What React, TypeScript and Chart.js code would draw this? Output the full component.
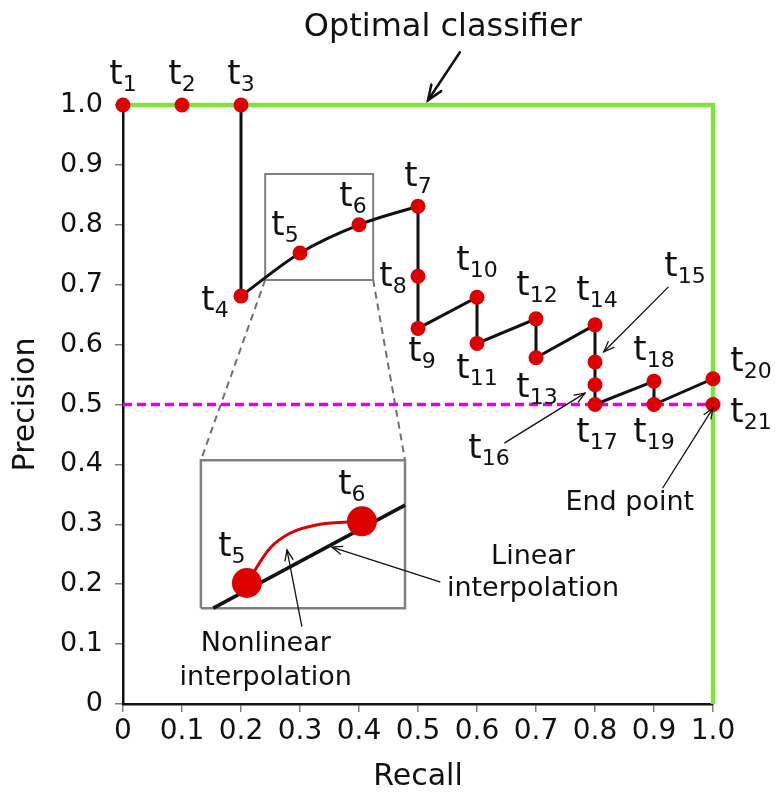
import React, { useEffect, useRef } from 'react';
import { Chart, registerables } from 'chart.js';

Chart.register(...registerables);

// ---- data ----
const thresholdIds = ['1','2','3','4','5','6','7','8','9','10','11','12','13','14','15','16','17','18','19','20','21'];
const recall = [0, 0.1, 0.2, 0.2, 0.3, 0.4, 0.5, 0.5, 0.5, 0.6, 0.6, 0.7, 0.7, 0.8, 0.8, 0.8, 0.8, 0.9, 0.9, 1.0, 1.0];
const precision = [1.0, 1.0, 1.0, 0.681, 0.753, 0.8, 0.831, 0.714, 0.627, 0.679, 0.602, 0.643, 0.578, 0.633, 0.571, 0.533, 0.5, 0.539, 0.5, 0.543, 0.5];
const curveFrom = 3; // t4
const curveTo = 6;   // t7
const xTickLabels = ['0', '0.1', '0.2', '0.3', '0.4', '0.5', '0.6', '0.7', '0.8', '0.9', '1.0'];
const yTickLabels = ['0', '0.1', '0.2', '0.3', '0.4', '0.5', '0.6', '0.7', '0.8', '0.9', '1.0'];
const optimalRecall = [0, 1, 1];
const optimalPrecision = [1, 1, 0];
const baselineRecall = [0, 1];
const baselinePrecision = [0.5, 0.5];
// zoom illustration
const zoomBoxRecall = [0.241, 0.424];
const zoomBoxPrecision = [0.708, 0.885];
const insetBoxRecall = [0.132, 0.478];
const insetBoxPrecision = [0.16, 0.407];
const insetLineRecall = [0.153, 0.478];
const insetLinePrecision = [0.16, 0.332];
const insetDotRecall = [0.21, 0.405];
const insetDotPrecision = [0.202, 0.305];
const insetDotIds = ['5', '6'];
const insetCurveRecall = [0.21, 0.249, 0.283, 0.334, 0.405];
const insetCurvePrecision = [0.202, 0.26, 0.285, 0.3, 0.305];

// ---- annotation layout (pixel offsets of the t-labels from their points) ----
const labelOffsets: [number, number][] = [
  [0, -29], [0, -29], [0, -29], [-26, 6], [-15, -26], [-6, -27], [0, -28], [-25, 2], [4, 25],
  [0, -35], [0, 27], [1, -32], [1, 31], [2, -33], [90, -94], [-106, 65], [2, 29], [0, -29],
  [0, 29], [38, -16], [38, 9],
];
const insetLabelOffsets: [number, number][] = [[-15, -35], [-10, -35]];

type Arrow = { from: [number, number]; to: [number, number]; width: number; head: number };
const arrows: Arrow[] = [
  { from: [0.571, 1.088], to: [0.517, 1.008], width: 2.5, head: 16 },
  { from: [0.924, 0.696], to: [0.815, 0.588], width: 1.3, head: 11 },
  { from: [0.647, 0.436], to: [0.783, 0.519], width: 1.3, head: 11 },
  { from: [0.915, 0.361], to: [1.0, 0.494], width: 1.3, head: 11 },
  { from: [0.537, 0.204], to: [0.354, 0.262], width: 1.3, head: 11 },
  { from: [0.303, 0.130], to: [0.278, 0.257], width: 1.3, head: 11 },
];
type Note = { text: string; at: [number, number]; size: number };
const notes: Note[] = [
  { text: 'Optimal classifier', at: [0.542, 1.129], size: 32 },
  { text: 'End point', at: [0.859, 0.336], size: 27 },
  { text: 'Linear', at: [0.695, 0.245], size: 27 },
  { text: 'interpolation', at: [0.695, 0.192], size: 27 },
  { text: 'Nonlinear', at: [0.242, 0.100], size: 27 },
  { text: 'interpolation', at: [0.242, 0.043], size: 27 },
];

const FONT = "'DejaVu Sans', Verdana, sans-serif";
const RED = '#dc0000';
const GREEN = '#80e33c';
const MAGENTA = '#e200ee';

const pts = (xs: number[], ys: number[]) => xs.map((x, i) => ({ x, y: ys[i] }));

function drawT(ctx: CanvasRenderingContext2D, cx: number, cy: number, sub: string, big = 34, small = 22) {
  ctx.font = `${big}px ${FONT}`;
  const wt = ctx.measureText('t').width;
  ctx.font = `${small}px ${FONT}`;
  const ws = ctx.measureText(sub).width;
  const left = cx - (wt + ws) / 2;
  const base = cy + 8;
  ctx.textAlign = 'left';
  ctx.textBaseline = 'alphabetic';
  ctx.fillStyle = '#111';
  ctx.font = `${big}px ${FONT}`;
  ctx.fillText('t', left, base);
  ctx.font = `${small}px ${FONT}`;
  ctx.fillText(sub, left + wt, base + 7);
}

function drawArrow(ctx: CanvasRenderingContext2D, x1: number, y1: number, x2: number, y2: number, w: number, head: number) {
  ctx.save();
  ctx.strokeStyle = '#111';
  ctx.lineWidth = w;
  ctx.lineCap = 'round';
  ctx.beginPath();
  ctx.moveTo(x1, y1);
  ctx.lineTo(x2, y2);
  ctx.stroke();
  const a = Math.atan2(y2 - y1, x2 - x1);
  ctx.beginPath();
  ctx.moveTo(x2 - head * Math.cos(a - 0.38), y2 - head * Math.sin(a - 0.38));
  ctx.lineTo(x2, y2);
  ctx.lineTo(x2 - head * Math.cos(a + 0.38), y2 - head * Math.sin(a + 0.38));
  ctx.stroke();
  ctx.restore();
}

const annotationPlugin = {
  id: 'annotations',
  afterDatasetsDraw(chart: any) {
    const ctx: CanvasRenderingContext2D = chart.ctx;
    const xs = chart.scales.x;
    const ys = chart.scales.y;
    const px = (v: number) => xs.getPixelForValue(v);
    const py = (v: number) => ys.getPixelForValue(v);
    ctx.save();
    arrows.forEach((a) => drawArrow(ctx, px(a.from[0]), py(a.from[1]), px(a.to[0]), py(a.to[1]), a.width, a.head));
    notes.forEach((n) => {
      ctx.font = `${n.size}px ${FONT}`;
      ctx.fillStyle = '#111';
      ctx.textAlign = 'center';
      ctx.textBaseline = 'middle';
      ctx.fillText(n.text, px(n.at[0]), py(n.at[1]));
    });
    thresholdIds.forEach((id, i) => {
      const [dx, dy] = labelOffsets[i];
      drawT(ctx, px(recall[i]) + dx, py(precision[i]) + dy, id);
    });
    insetDotIds.forEach((id, i) => {
      const [dx, dy] = insetLabelOffsets[i];
      drawT(ctx, px(insetDotRecall[i]) + dx, py(insetDotPrecision[i]) + dy, id);
    });
    ctx.restore();
  },
};

export default function App() {
  const ref = useRef<HTMLCanvasElement | null>(null);
  useEffect(() => {
    if (!ref.current) return;
    const all = pts(recall, precision);
    const rect = (rx: number[], ry: number[]) => [
      { x: rx[0], y: ry[0] }, { x: rx[1], y: ry[0] }, { x: rx[1], y: ry[1] }, { x: rx[0], y: ry[1] }, { x: rx[0], y: ry[0] },
    ];
    const line = (extra: any) => ({ showLine: true, pointRadius: 0, clip: false, fill: false, ...extra });
    const chart = new Chart(ref.current, {
      type: 'scatter',
      data: {
        datasets: [
          { data: all, pointRadius: 7.5, pointBackgroundColor: RED, pointBorderWidth: 0, showLine: false, clip: false, order: 0 },
          line({ data: pts(insetDotRecall, insetDotPrecision), pointRadius: 15, pointBackgroundColor: RED, pointBorderWidth: 0, showLine: false, order: 1 }),
          line({ data: pts(optimalRecall, optimalPrecision), borderColor: GREEN, borderWidth: 4.5, order: 2 }),
          line({ data: all.slice(0, curveFrom + 1), borderColor: '#111', borderWidth: 3, order: 3 }),
          line({ data: all.slice(curveFrom, curveTo + 1), borderColor: '#111', borderWidth: 3, cubicInterpolationMode: 'monotone', order: 3 }),
          line({ data: all.slice(curveTo), borderColor: '#111', borderWidth: 3, order: 3 }),
          line({ data: pts(insetCurveRecall, insetCurvePrecision), borderColor: RED, borderWidth: 3, cubicInterpolationMode: 'monotone', order: 4 }),
          line({ data: pts(insetLineRecall, insetLinePrecision), borderColor: '#111', borderWidth: 3.5, order: 5 }),
          line({ data: pts(baselineRecall, baselinePrecision), borderColor: MAGENTA, borderWidth: 3.5, borderDash: [9, 5], order: 6 }),
          line({ data: rect(zoomBoxRecall, zoomBoxPrecision), borderColor: '#808080', borderWidth: 2, order: 7 }),
          line({ data: rect(insetBoxRecall, insetBoxPrecision), borderColor: '#808080', borderWidth: 2.5, order: 7 }),
          line({ data: [{ x: zoomBoxRecall[0], y: zoomBoxPrecision[0] }, { x: insetBoxRecall[0], y: insetBoxPrecision[1] }], borderColor: '#707070', borderWidth: 2, borderDash: [7, 5], order: 8 }),
          line({ data: [{ x: zoomBoxRecall[1], y: zoomBoxPrecision[0] }, { x: insetBoxRecall[1], y: insetBoxPrecision[1] }], borderColor: '#707070', borderWidth: 2, borderDash: [7, 5], order: 8 }),
        ] as any,
      },
      options: {
        animation: false,
        responsive: false,
        events: [],
        layout: { padding: { top: 105, right: 64, left: 0, bottom: 0 } },
        plugins: { legend: { display: false }, tooltip: { enabled: false } },
        scales: {
          x: {
            type: 'linear',
            min: 0,
            max: 1,
            afterFit: (s: any) => { s.height = 88; },
            border: { display: true, color: '#111', width: 2.5 },
            grid: { display: true, drawOnChartArea: false, drawTicks: true, tickLength: 8, color: '#808080', lineWidth: 1.5 },
            ticks: {
              stepSize: 0.1,
              autoSkip: false,
              maxRotation: 0,
              padding: 3,
              color: '#111',
              font: { family: FONT, size: 28 },
              callback: (_v: any, i: number) => xTickLabels[i],
            },
            title: { display: true, text: 'Recall', color: '#111', font: { family: FONT, size: 30, lineHeight: 1 }, padding: { top: 0, bottom: 0 } },
          },
          y: {
            type: 'linear',
            min: 0,
            max: 1,
            afterFit: (s: any) => { s.width = 123; },
            border: { display: true, color: '#111', width: 2.5 },
            grid: { display: true, drawOnChartArea: false, drawTicks: true, tickLength: 8, color: '#808080', lineWidth: 1.5 },
            ticks: {
              stepSize: 0.1,
              autoSkip: false,
              padding: 12,
              color: '#111',
              font: { family: FONT, size: 27 },
              callback: (_v: any, i: number) => yTickLabels[i],
            },
            title: { display: true, text: 'Precision', color: '#111', font: { family: FONT, size: 30, lineHeight: 1 }, padding: { top: 11, bottom: 0 } },
          },
        },
      } as any,
      plugins: [annotationPlugin],
    });
    return () => chart.destroy();
  }, []);
  return (
    <div style={{ position: 'absolute', left: 0, top: 0, width: 777, height: 792, background: '#fff' }}>
      <canvas ref={ref} width={777} height={792} style={{ display: 'block' }} />
    </div>
  );
}
